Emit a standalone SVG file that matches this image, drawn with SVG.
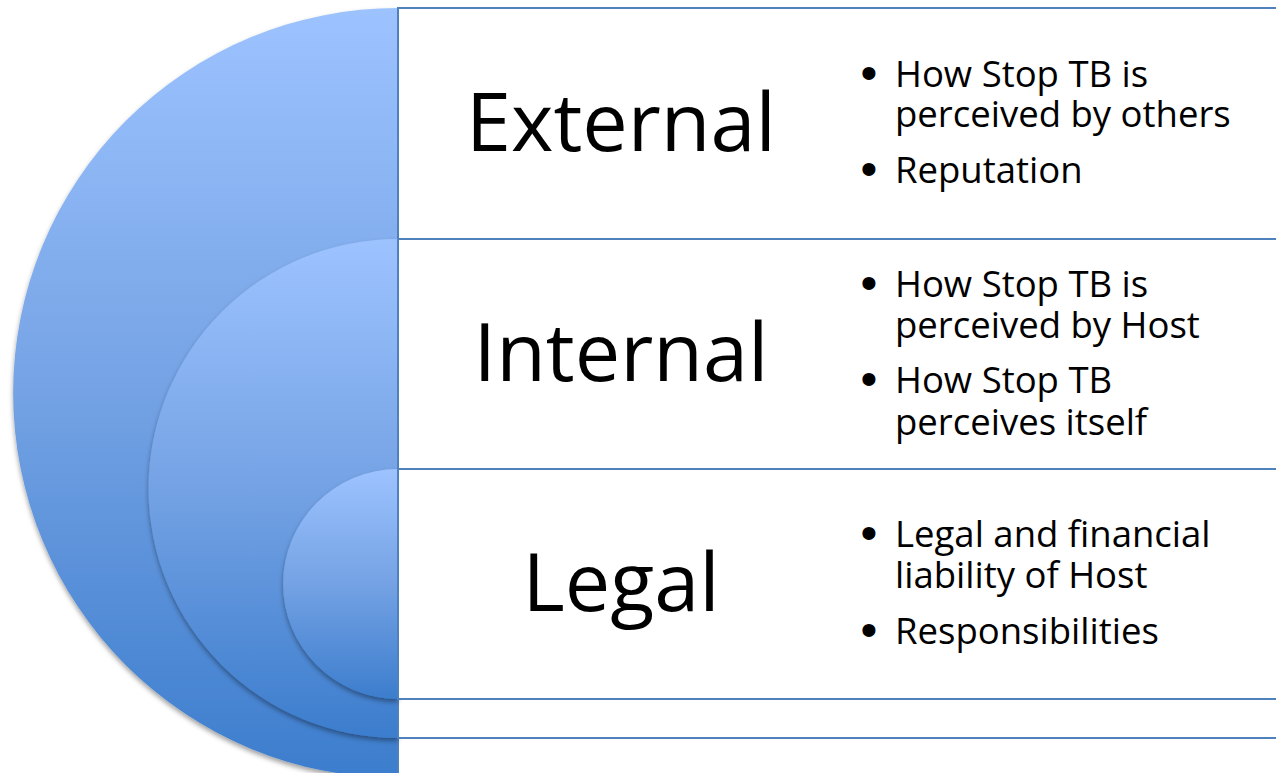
<svg xmlns="http://www.w3.org/2000/svg" width="1276" height="773" viewBox="0 0 1276 773">
  <defs>
    <linearGradient id="blueGrad" x1="0" y1="0" x2="0" y2="1">
      <stop offset="0" stop-color="#9dc3ff"/>
      <stop offset="0.5" stop-color="#74a2e4"/>
      <stop offset="1" stop-color="#3c7dcd"/>
    </linearGradient>
    <filter id="shadow" x="-10%" y="-10%" width="130%" height="130%">
      <feDropShadow dx="0" dy="3" stdDeviation="2.5" flood-color="#000000" flood-opacity="0.38"/>
    </filter>
  </defs>
  <style>
    .disc { fill: url(#blueGrad); filter: url(#shadow); }
    .box { fill: #ffffff; stroke: #4f81bd; stroke-width: 2; }
    .title { font-family: "Open Sans", "Liberation Sans", sans-serif; font-size: 81px; fill: #000000; text-anchor: middle; }
    .item { font-family: "Open Sans", "Liberation Sans", sans-serif; font-size: 36.5px; fill: #000000; }
    .bullet { font-family: "Liberation Sans", "Open Sans", sans-serif; font-size: 48px; fill: #000000; text-anchor: middle; }
  </style>
  <rect x="0" y="0" width="1276" height="773" fill="#ffffff"/>

  <g id="external">
    <path class="disc" d="M398 8 A385 385 0 0 0 398 778 Z"/>
    <rect class="box" x="398" y="8" width="900" height="770"/>
    <text class="title" x="621" y="151">External</text>
    <text class="bullet" x="869" y="89">•</text>
    <text class="item" x="895" y="87">How Stop TB is<tspan x="895" dy="40">perceived by others</tspan></text>
    <text class="bullet" x="869" y="185">•</text>
    <text class="item" x="895" y="183">Reputation</text>
  </g>

  <g id="internal">
    <path class="disc" d="M398 239 A249.5 249.5 0 0 0 398 738 Z"/>
    <rect class="box" x="398" y="239" width="900" height="499"/>
    <text class="title" x="621" y="381">Internal</text>
    <text class="bullet" x="869" y="299">•</text>
    <text class="item" x="895" y="297">How Stop TB is<tspan x="895" dy="41">perceived by Host</tspan></text>
    <text class="bullet" x="869" y="395">•</text>
    <text class="item" x="895" y="393">How Stop TB<tspan x="895" dy="42">perceives itself</tspan></text>
  </g>

  <g id="legal">
    <path class="disc" d="M398 469 A115 115 0 0 0 398 699 Z"/>
    <rect class="box" x="398" y="469" width="900" height="230"/>
    <text class="title" x="621" y="611">Legal</text>
    <text class="bullet" x="869" y="549">•</text>
    <text class="item" x="895" y="547">Legal and financial<tspan x="895" dy="41">liability of Host</tspan></text>
    <text class="bullet" x="869" y="646">•</text>
    <text class="item" x="895" y="644">Responsibilities</text>
  </g>
</svg>
